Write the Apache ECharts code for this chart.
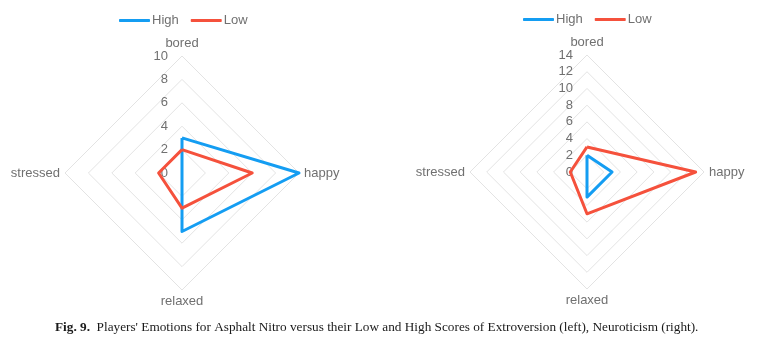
<!DOCTYPE html>
<html>
<head>
<meta charset="utf-8">
<script src="https://cdn.jsdelivr.net/npm/echarts@6/dist/echarts.min.js"></script>
<style>
html,body{margin:0;padding:0;background:#fff;}
#chart{width:775px;height:346px;}
</style>
</head>
<body>
<div id="chart"></div>
<script>
// Indicator order (counter-clockwise from top): bored, stressed, relaxed, happy
const categories = ['bored', 'stressed', 'relaxed', 'happy'];
const seriesNames = ['High', 'Low'];
// Left: Extroversion
const extroHigh = [3, 0, 5, 10];
const extroLow = [2, 2, 3, 6];
const extroMax = 10;
// Right: Neuroticism
const neuroHigh = [2, 0, 3, 3];
const neuroLow = [3, 2, 5, 13];
const neuroMax = 14;
const caption = "Players' Emotions for Asphalt Nitro versus their Low and High Scores of Extroversion (left), Neuroticism (right).";

const BLUE = '#149DF2';
const RED = '#F5513C';
const FONT = 'Liberation Sans, Arial, sans-serif';

function indicators(max) {
  return categories.map((c, i) => ({
    name: c, max: max, min: 0,
    axisLabel: { show: i === 0 }
  }));
}

function radarCfg(center, max) {
  return {
    center: center,
    radius: 117,
    startAngle: 90,
    shape: 'polygon',
    splitNumber: max / 2,
    indicator: indicators(max),
    axisName: { color: '#707070', fontSize: 13, fontFamily: FONT },
    nameGap: 5,
    axisLine: { show: false },
    axisTick: { show: false },
    splitArea: { show: false },
    splitLine: { lineStyle: { color: '#E3E3E3', width: 1 } },
    axisLabel: { show: false, color: '#707070', fontSize: 13, fontFamily: FONT, margin: 14, showMinLabel: true, showMaxLabel: true }
  };
}

function lineSeries(radarIndex, high, low) {
  return {
    type: 'radar',
    radarIndex: radarIndex,
    symbol: 'none',
    data: [
      { name: seriesNames[0], value: high, lineStyle: { color: BLUE, width: 3 }, itemStyle: { color: BLUE } },
      { name: seriesNames[1], value: low, lineStyle: { color: RED, width: 3 }, itemStyle: { color: RED } }
    ]
  };
}

const chart = echarts.init(document.getElementById('chart'), null, { renderer: 'canvas' });
const legendCommon = {
  data: seriesNames,
  icon: 'roundRect',
  itemWidth: 31,
  itemHeight: 3,
  itemGap: 12,
  textStyle: { color: '#707070', fontSize: 13, fontFamily: FONT, padding: [0, 0, 0, -3] }
};
chart.setOption({
  animation: false,
  color: [BLUE, RED],
  title: {
    text: '{b|Fig. 9.}  ' + caption,
    left: 50,
    top: 316,
    textStyle: {
      fontFamily: 'Liberation Serif, serif',
      fontSize: 13.25,
      fontWeight: 'normal',
      color: '#1a1a1a',
      rich: { b: { fontWeight: 'bold', fontFamily: 'Liberation Serif, serif', fontSize: 13.25, color: '#1a1a1a' } }
    }
  },
  legend: [
    Object.assign({ left: 114, top: 9 }, legendCommon),
    Object.assign({ left: 518, top: 8 }, legendCommon)
  ],
  radar: [radarCfg([182, 173], extroMax), radarCfg([587, 172], neuroMax)],
  series: [lineSeries(0, extroHigh, extroLow), lineSeries(1, neuroHigh, neuroLow)]
});
</script>
</body>
</html>
